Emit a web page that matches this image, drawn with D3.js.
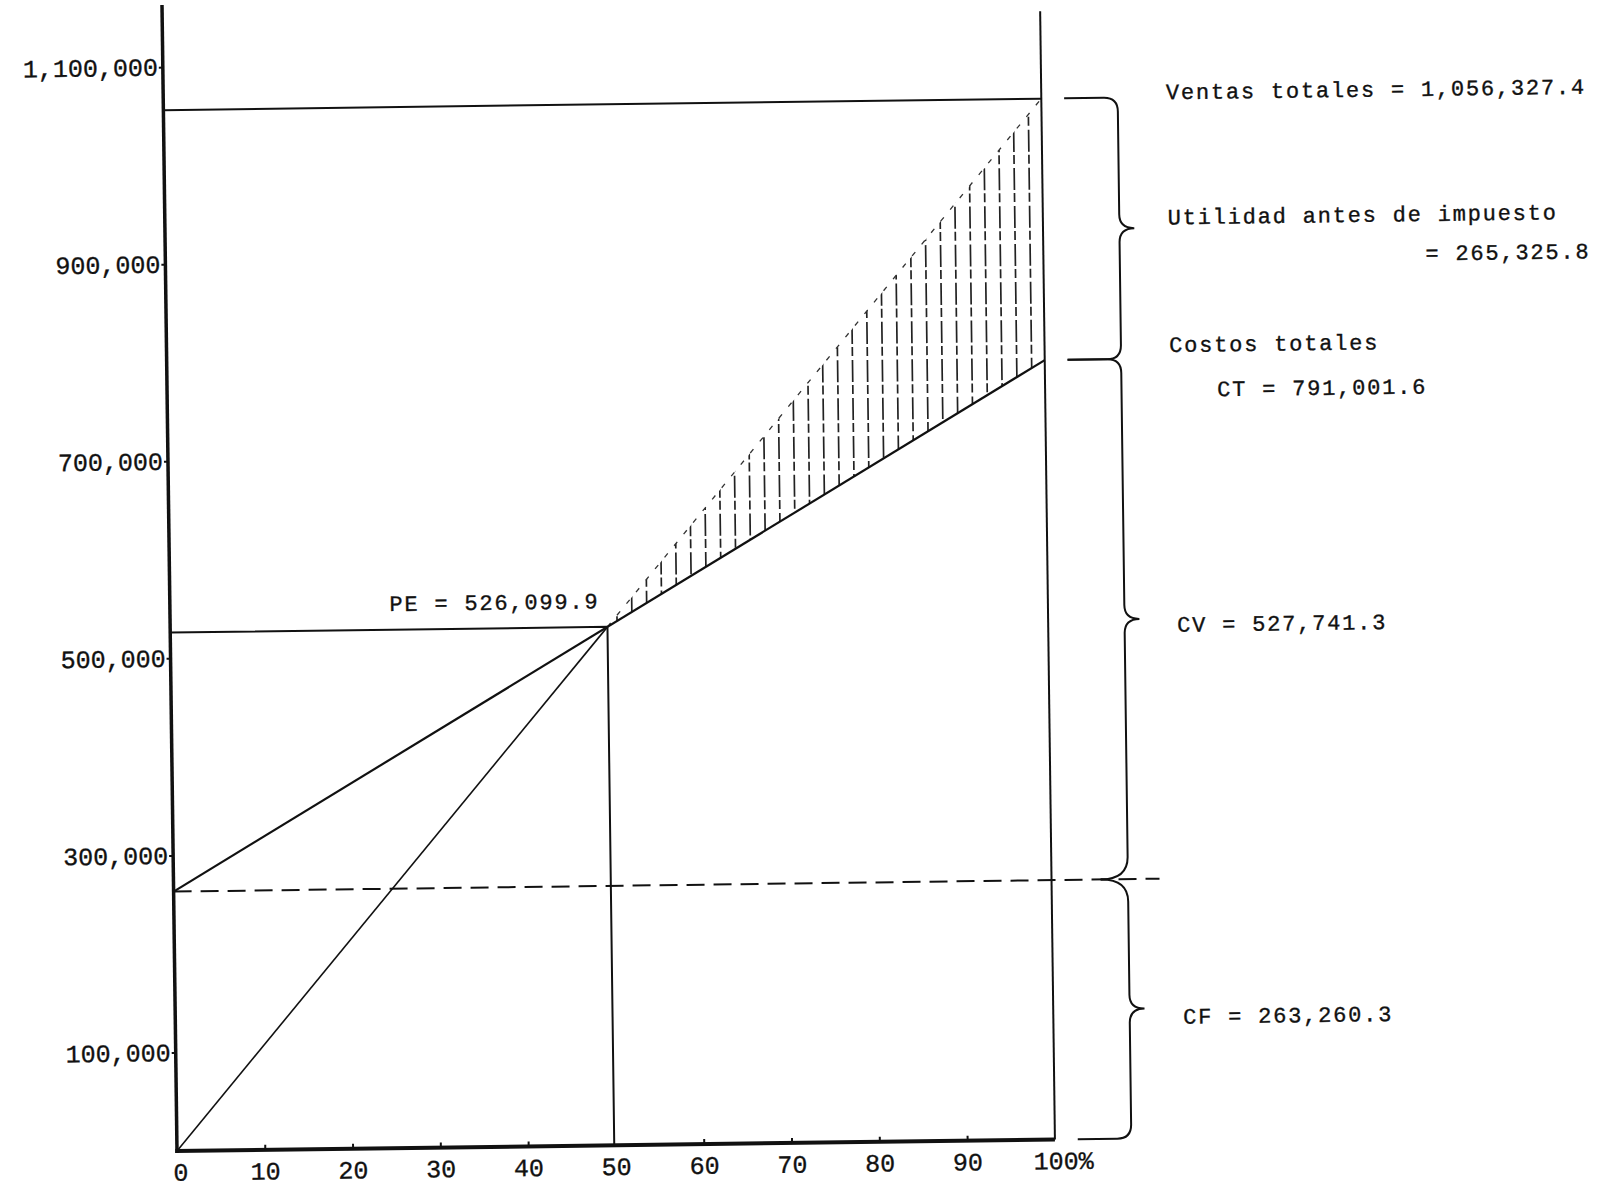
<!DOCTYPE html>
<html>
<head>
<meta charset="utf-8">
<script src="https://cdn.jsdelivr.net/npm/d3@7"></script>
<style>
  html, body { margin: 0; padding: 0; background: #fff; }
  svg { display: block; }
  .tick text { font-family: "Liberation Mono", "DejaVu Sans Mono", monospace; font-size: 25px; fill: #111; stroke: #111; stroke-width: 0.35px; }
  .ann { font-family: "Liberation Mono", "DejaVu Sans Mono", monospace; font-size: 22px; fill: #111; letter-spacing: 1.8px; stroke: #111; stroke-width: 0.35px; }
</style>
</head>
<body>
<script>
// ---- Data ----
const xTickValues = [0, 10, 20, 30, 40, 50, 60, 70, 80, 90, 100];
const yTickValues = [100000, 300000, 500000, 700000, 900000, 1100000];
const ventasTotales = 1056327.4;
const costosTotales = 791001.6;
const costosFijos = 263260.3;
const costosVariables = 527741.3;
const utilidad = 265325.8;
const puntoEquilibrio = 526099.9;
const pePct = puntoEquilibrio / ventasTotales * 100;

// lines (x in % of sales, y in money)
const ventasLine = [[0, 0], [pePct, puntoEquilibrio]];
const ventasUpper = [[pePct, puntoEquilibrio], [100, ventasTotales]];
const costosLine = [[0, costosFijos], [100, costosTotales]];

// annotation texts
const annTexts = [
  "Ventas totales = 1,056,327.4",
  "Utilidad antes de impuesto",
  "= 265,325.8",
  "Costos totales",
  "CT = 791,001.6",
  "CV = 527,741.3",
  "CF = 263,260.3",
  "PE = 526,099.9"
];
// annotation anchors in chart units (x %, y money) - layout only
const annPos = [
  [114.2, 1054000, "start"],
  [114.2, 927000, "start"],
  [162.3, 887000, "end"],
  [114.2, 797500, "start"],
  [119.6, 752000, "start"],
  [114.7, 513500, "start"],
  [114.8, 115700, "start"],
  [25.0, 545000, "start"]
];

const W = 1617, H = 1192;
const svg = d3.select("body").append("svg").attr("width", W).attr("height", H);
svg.append("rect").attr("width", W).attr("height", H).attr("fill", "#fff");

const x = d3.scaleLinear().domain([0, 100]).range([177, 1055]);
const y = d3.scaleLinear().domain([0, 1100000]).range([1151, 67]);

// scanned page is slightly rotated
const g = svg.append("g").attr("transform", `rotate(-0.75, ${x(0)}, ${y(0)})`);
const ink = "#111";

// ---- hatching (profit area) ----
const area = d3.area()
  .x(d => x(d[0]))
  .y0(d => y(d[1]))
  .y1(d => y(d[2]));
const profitPts = [[pePct, puntoEquilibrio, puntoEquilibrio], [100, costosTotales, ventasTotales]];
g.append("clipPath").attr("id", "profitClip")
  .append("path").attr("d", area(profitPts));
g.append("g").attr("clip-path", "url(#profitClip)")
  .selectAll("line")
  .data(d3.range(pePct + 1.1, 100.2, 1.7))
  .join("line")
  .attr("x1", d => x(d)).attr("x2", d => x(d))
  .attr("y1", y(0)).attr("y2", y(1200000))
  .attr("stroke", "#222").attr("stroke-width", 1.7)
  .attr("stroke-dasharray", "22,4,9,3");

const line = d3.line().x(d => x(d[0])).y(d => y(d[1]));

// upper sales line beyond PE (faint, only marks)
g.append("path").attr("d", line(ventasUpper))
  .attr("fill", "none").attr("stroke", "#333").attr("stroke-width", 1.3)
  .attr("stroke-dasharray", "5,10");

// sales line from origin to PE
g.append("path").attr("d", line(ventasLine))
  .attr("fill", "none").attr("stroke", ink).attr("stroke-width", 1.6);

// total cost line
g.append("path").attr("d", line(costosLine))
  .attr("fill", "none").attr("stroke", ink).attr("stroke-width", 2.2);

// fixed cost dashed line
g.append("path").attr("d", line([[0, costosFijos], [112.3, costosFijos]]))
  .attr("fill", "none").attr("stroke", ink).attr("stroke-width", 2)
  .attr("stroke-dasharray", "18,9");

// sales total horizontal line
g.append("path").attr("d", line([[0, ventasTotales], [100, ventasTotales]]))
  .attr("fill", "none").attr("stroke", ink).attr("stroke-width", 2);

// PE lines
g.append("path").attr("d", line([[0, puntoEquilibrio], [pePct, puntoEquilibrio], [pePct, 0]]))
  .attr("fill", "none").attr("stroke", ink).attr("stroke-width", 2);

// 100% vertical line
g.append("path").attr("d", line([[100, 0], [100, 1145000]]))
  .attr("fill", "none").attr("stroke", ink).attr("stroke-width", 2);

// axes lines
g.append("path").attr("d", line([[0, -2000], [0, 1163000]]))
  .attr("fill", "none").attr("stroke", ink).attr("stroke-width", 3.5);
g.append("path").attr("d", line([[-0.2, 0], [100, 0]]))
  .attr("fill", "none").attr("stroke", ink).attr("stroke-width", 4);

// axes ticks & labels
const yAxis = d3.axisLeft(y).tickValues(yTickValues).tickFormat(d3.format(",")).tickSize(4).tickPadding(1);
const ya = g.append("g").attr("transform", `translate(${x(0)},0)`).call(yAxis);
ya.select(".domain").remove();
ya.selectAll(".tick line").attr("stroke", ink).attr("stroke-width", 2);

const xAxis = d3.axisBottom(x).tickValues(xTickValues)
  .tickFormat(d => d === 100 ? "100%" : String(d)).tickSize(-5).tickPadding(12);
const xa = g.append("g").attr("transform", `translate(0,${y(0)})`).call(xAxis);
xa.select(".domain").remove();
xa.selectAll(".tick line").attr("stroke", ink).attr("stroke-width", 2)
  .attr("display", d => (d === 0 || d === 100 || d === 50) ? "none" : null);
xa.selectAll(".tick text").attr("dx", d => d === 100 ? 8 : (d === 0 ? 3 : 0));

// ---- braces ----
const braces = [
  { top: ventasTotales, bot: costosTotales, topEnd: 102.6, botEnd: 102.6, topCusp: false, botCusp: false },
  { top: costosTotales, bot: costosFijos, topEnd: 102.6, botEnd: 105.6, topCusp: false, botCusp: true },
  { top: costosFijos, bot: 0, topEnd: 105.6, botEnd: 102.6, topCusp: true, botCusp: false }
];
function bracePath(b) {
  const xv = x(108.7), xt = x(110.4), r = 14;
  const y1 = y(b.top), y2 = y(b.bot), ym = (y1 + y2) / 2;
  const xa = x(b.topEnd), xb = x(b.botEnd);
  let p = "";
  if (b.topCusp) {
    p += `M${xa},${y1} Q${xv},${y1} ${xv},${y1 + r * 1.6}`;
  } else {
    p += `M${xa},${y1} L${xv - r},${y1} Q${xv},${y1} ${xv},${y1 + r}`;
  }
  p += ` L${xv},${ym - r} Q${xv},${ym} ${xt},${ym} Q${xv},${ym} ${xv},${ym + r}`;
  if (b.botCusp) {
    p += ` L${xv},${y2 - r * 1.6} Q${xv},${y2} ${xb},${y2}`;
  } else {
    p += ` L${xv},${y2 - r} Q${xv},${y2} ${xv - r},${y2} L${xb},${y2}`;
  }
  return p;
}
g.selectAll("path.brace").data(braces).join("path")
  .attr("class", "brace")
  .attr("d", bracePath)
  .attr("fill", "none").attr("stroke", ink).attr("stroke-width", 2);

// ---- annotations ----
g.selectAll("text.ann").data(annTexts).join("text")
  .attr("class", "ann")
  .attr("x", (d, i) => x(annPos[i][0]))
  .attr("y", (d, i) => y(annPos[i][1]))
  .attr("text-anchor", (d, i) => annPos[i][2])
  .text(d => d);
</script>
</body>
</html>
